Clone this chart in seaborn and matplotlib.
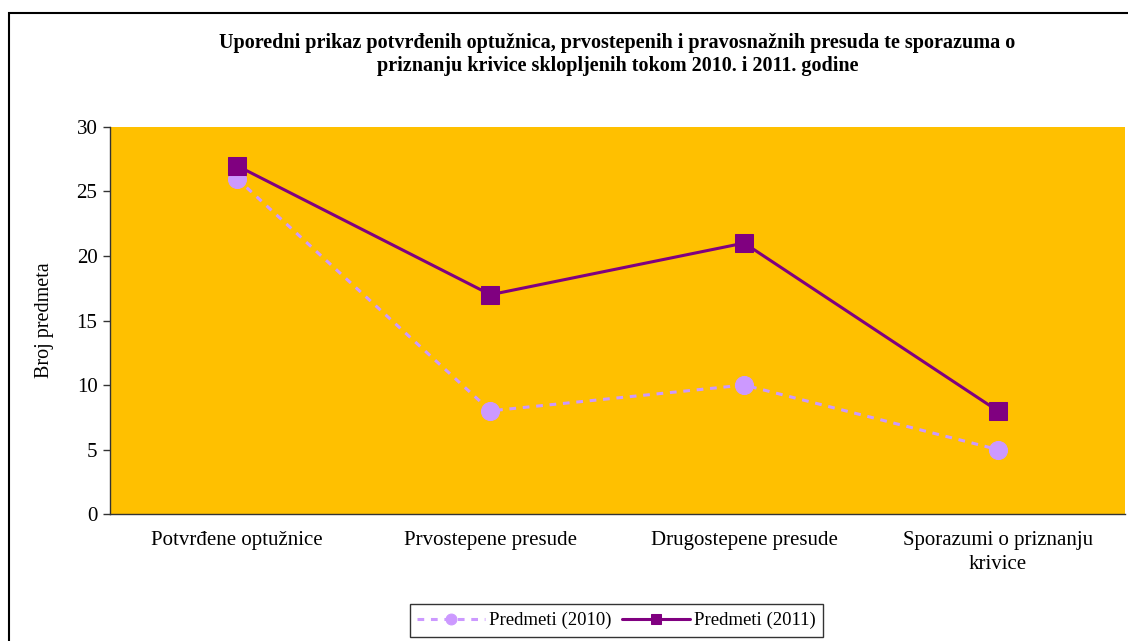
import matplotlib
matplotlib.use("Agg")
import matplotlib.pyplot as plt
import matplotlib.patches as patches
import pandas as pd
import seaborn as sns

categories = [
    "Potvrđene optužnice",
    "Prvostepene presude",
    "Drugostepene presude",
    "Sporazumi o priznanju\nkrivice",
]
values_2010 = [26, 8, 10, 5]
values_2011 = [27, 17, 21, 8]
y_ticks = [0, 5, 10, 15, 20, 25, 30]

title = ("Uporedni prikaz potvrđenih optužnica, prvostepenih i pravosnažnih presuda te sporazuma o\n"
         "priznanju krivice sklopljenih tokom 2010. i 2011. godine")

sns.set_theme(style="white")
plt.rcParams["font.family"] = ["Liberation Serif", "DejaVu Serif"]
plt.rcParams["text.color"] = "black"
plt.rcParams["axes.labelcolor"] = "black"
plt.rcParams["xtick.color"] = "black"
plt.rcParams["ytick.color"] = "black"

df = pd.DataFrame({
    "pos": list(range(len(categories))) * 2,
    "value": values_2010 + values_2011,
    "series": ["Predmeti (2010)"] * 4 + ["Predmeti (2011)"] * 4,
})

fig = plt.figure(figsize=(11.28, 6.41), dpi=100)
fig.patch.set_facecolor("white")
ax = fig.add_axes([0.0975, 0.198, 0.8995, 0.604])
ax.set_facecolor("#FFC000")

d10 = df[df["series"] == "Predmeti (2010)"]
d11 = df[df["series"] == "Predmeti (2011)"]

sns.lineplot(data=d10, x="pos", y="value", ax=ax, color="#CC99FF",
             linewidth=2.2, linestyle=(0, (2.2, 2.2)), marker="o", markersize=13,
             markeredgecolor="#CC99FF", label="Predmeti (2010)")
sns.lineplot(data=d11, x="pos", y="value", ax=ax, color="#800080",
             linewidth=2.2, marker="s", markersize=13,
             markeredgecolor="#800080", label="Predmeti (2011)")

ax.set_xlim(-0.5, len(categories) - 0.5)
ax.set_ylim(0, 30)
ax.set_yticks(y_ticks)
ax.set_yticklabels([str(t) for t in y_ticks], fontsize=15)
ax.set_xticks(range(len(categories)))
ax.set_xticklabels(categories, fontsize=15, linespacing=1.4)
ax.set_xticks([i + 0.5 for i in range(len(categories))], minor=True)
ax.tick_params(axis="x", which="major", length=0, pad=12)
ax.tick_params(axis="x", which="minor", length=5, width=1, color="#333333", direction="out")
ax.tick_params(axis="y", length=5, width=1, color="#333333", direction="out", left=True, pad=4)
ax.set_xlabel("")
ax.set_ylabel("Broj predmeta", fontsize=14.5, labelpad=16)

for side in ["top", "right"]:
    ax.spines[side].set_visible(False)
for side in ["left", "bottom"]:
    ax.spines[side].set_color("#333333")
    ax.spines[side].set_linewidth(1)

ax.set_title(title, fontsize=14.5, fontweight="bold", pad=40, linespacing=1.25)

leg = ax.legend(loc="center", bbox_to_anchor=(0.499, -0.275), ncol=2, fontsize=13.5,
                frameon=True, fancybox=False, edgecolor="black", handlelength=3.6,
                markerscale=0.6, columnspacing=0.6, handletextpad=0.2, borderpad=0.4)
leg.get_frame().set_linewidth(1)

# chart border
fig.patches.append(patches.Rectangle((9 / 1128, -0.05), 1.1, 1 - 13 / 641 + 0.05,
                                     transform=fig.transFigure, fill=False,
                                     edgecolor="black", linewidth=1.5))

fig.savefig("out.png", dpi=100)
